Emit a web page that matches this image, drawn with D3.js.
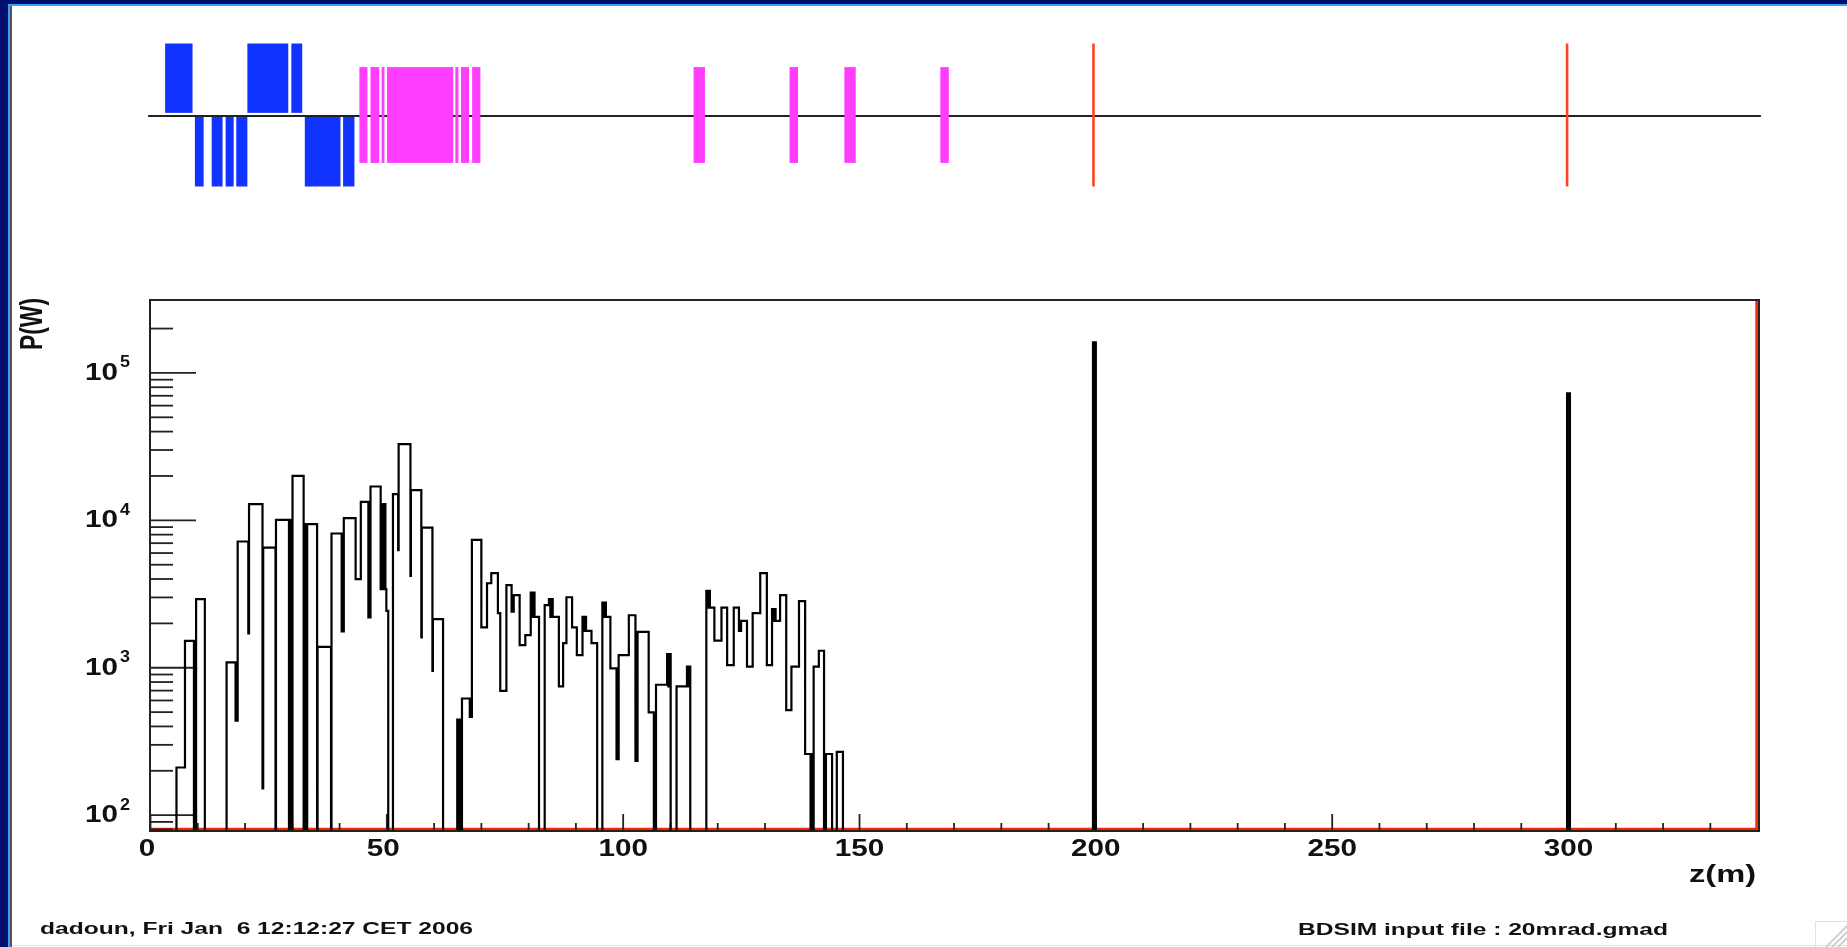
<!DOCTYPE html>
<html>
<head>
<meta charset="utf-8">
<script src="https://cdn.jsdelivr.net/npm/d3@7"></script>
<style>
html,body{margin:0;padding:0;background:#fff;overflow:hidden}
svg{display:block}
text{font-family:"Liberation Sans",Arial,sans-serif;font-weight:bold;fill:#111}
</style>
</head>
<body>
<svg id="c" width="1847" height="947"></svg>
<script>
// Histogram: left edge of every step along z (m), and the power (W) of that step. 1 = empty, clamped to the axis floor.
const binStart = [0,5.6,7.4,9.3,9.75,11.6,16.2,18.1,18.55,20.8,20.95,23.8,23.95,26.55,26.65,29.4,29.75,29.8,30.15,32.5,32.85,32.9,33.25,35.35,35.45,38.3,38.4,40.55,41.0,43.5,44.6,46.2,46.65,48.8,49.05,49.3,49.55,49.8,50.0,50.4,51.4,52.5,52.6,55.1,55.2,57.4,57.5,59.75,59.85,62,65.0,65.35,65.65,65.95,66.0,67.65,68.1,70.1,71.3,72.2,73.6,74.1,75.4,76.5,76.95,78.2,79.4,80.55,80.85,81.1,81.35,82.3,83.5,84.4,84.7,84.95,85.2,86.5,87.4,88.1,89.3,90.3,91.5,91.75,92.0,92.25,93.4,94.6,95.7,95.95,96.2,96.45,97.4,98.7,99.15,101.3,102.7,103.15,105.5,106.6,107.05,109.4,109.65,109.9,110.15,111.4,113.6,113.85,114.1,114.3,117.7,117.95,118.2,118.45,119.4,120.9,122.1,123.5,124.6,125.05,126.3,127.5,129.1,130.5,131.6,131.85,132.1,132.35,133.3,134.6,135.7,137.3,138.6,139.75,140.05,140.1,140.4,141.5,142.6,143.0,144.3,145.3,146.6,199.5,199.75,199.85,200.1,299.8,300.05,300.15,300.4,340];
const binPower = [1,209,1510,1,2900,1,1078,434,7130,1698,12770,151,6490,1,10000,1,10000,1,19860,1,9340,1,9340,1,1377,1,8080,1750,10260,3965,13240,2178,16830,3390,12770,3390,12770,3390,2416,1,14930,6223,32600,4170,15900,1592,8870,946,2120,1,441,1,441,1,614,461,7310,1862,3715,4345,2328,692,3606,2388,3083,1413,1652,3214,2198,3214,2198,1,2636,2897,2198,2897,2198,741,1459,2985,1862,1208,2198,1766,2198,1766,1459,1,2748,2198,2748,2198,982,238,1208,2254,232,1737,494,1,761,1227,742,1227,1,742,1011,742,1011,1,3295,2541,3295,2541,1514,2541,1033,2541,1766,2065,1011,2328,4345,1033,2477,2065,2477,2065,3083,512,1011,2807,258,1,258,1,1011,1294,1,258,1,267,1,160000,1,160000,1,72000,1,72000,1,1];

// Second (red) histogram: sits on the floor, then rises at the very end of the range
const redZ = [0,339.9,339.9];
const redPower = [80,80,310000];

// Beamline schematic: element extents along z (m)
const dipoleUp = [[3.2,9.0],[20.6,29.25],[29.9,32.2]];
const dipoleDown = [[9.5,11.35],[13.05,15.35],[16.0,17.7],[18.25,20.6],[32.75,40.3],[40.85,43.25]];
const quads = [[44.3,46.0],[46.65,48.5],[49.0,49.6],[50.15,64.15],[64.6,65.25],[65.8,67.5],[68.15,69.9],[115.0,117.4],[135.3,137.1],[146.9,149.3],[167.2,169.0]];
const markers = [199.6,299.8];

const xMajor = [0,50,100,150,200,250,300];
const xMinor = [10,20,30,40,60,70,80,90,110,120,130,140,160,170,180,190,210,220,230,240,260,270,280,290,310,320,330];
const yMajor = [100,1000,10000,100000];
const yExponent = [2,3,4,5];
const yMinor = [80,90,200,300,400,500,600,700,800,900,2000,3000,4000,5000,6000,7000,8000,9000,20000,30000,40000,50000,60000,70000,80000,90000,200000];
const xTitle = "z(m)", yTitle = "P(W)";
const footLeft = "dadoun, Fri Jan  6 12:12:27 CET 2006";
const footRight = "BDSIM input file : 20mrad.gmad";

const L=150,R=1759,T=300,B=831;
const svg = d3.select("#c");

// slide frame
const frame = svg.append("g");
frame.append("rect").attr("x",0).attr("y",0).attr("width",1847).attr("height",4).attr("fill","#000e70");
frame.append("rect").attr("x",0).attr("y",0).attr("width",8).attr("height",947).attr("fill","#000e70");
frame.append("rect").attr("x",8).attr("y",4).attr("width",1839).attr("height",2).attr("fill","#3fa0f0");
frame.append("rect").attr("x",8).attr("y",4).attr("width",2).attr("height",943).attr("fill","#3fa0f0");
frame.append("rect").attr("x",10).attr("y",6).attr("width",2).attr("height",941).attr("fill","#555");
frame.append("rect").attr("x",12).attr("y",945).attr("width",1835).attr("height",1).attr("fill","#e4e4e4");
// window grip
const grip = frame.append("g").attr("fill","none");
grip.append("path").attr("d","M1815.5 947V921.5H1847").attr("stroke","#e2e2e2").attr("stroke-width",1);
grip.selectAll("path.g").data([0,6,12]).join("path").attr("class","g")
  .attr("d",d=>`M${1826+d} 947L1847 ${926+d}`).attr("stroke","#d0d0d0").attr("stroke-width",2);

const chart = svg.append("g").style("filter","blur(0.6px)");

const x = d3.scaleLinear().domain([0,340.4]).range([L,R]);
const y = d3.scaleLog().domain([77.5,310000]).range([B,T]).clamp(true);
const s = d3.scaleLinear().domain([-1,1]).range([186.5,43.5]);

// beamline
const beam = chart.append("g");
const bar = (g,data,lo,hi,col)=>g.selectAll(null).data(data).join("rect")
  .attr("x",d=>x(d[0])).attr("width",d=>x(d[1])-x(d[0]))
  .attr("y",s(hi)).attr("height",s(lo)-s(hi)).attr("fill",col);
bar(beam,dipoleUp,0.03,1,"#1133ff");
bar(beam,dipoleDown,-1,-0.01,"#1133ff");
beam.append("line").attr("x1",x(-0.4)).attr("x2",x(340.8)).attr("y1",s(-0.014)).attr("y2",s(-0.014)).attr("stroke","#222").attr("stroke-width",1.8);
bar(beam,quads,-0.67,0.67,"#ff3dff");
beam.selectAll(null).data(markers).join("line")
  .attr("x1",d=>x(d)).attr("x2",d=>x(d)).attr("y1",s(1)).attr("y2",s(-1))
  .attr("stroke","#ff4422").attr("stroke-width",2.6);

// red series
const redLine = d3.line().x(d=>x(d[0])).y(d=>y(d[1]));
chart.append("path").datum(redZ.map((z,i)=>[z,redPower[i]])).attr("d",redLine)
  .attr("fill","none").attr("stroke","#ff2200").attr("stroke-width",2.6);

// axes
const tickStyle = g=>{g.select(".domain").remove();g.selectAll("line").attr("stroke","#222").attr("stroke-width",1.8);};
chart.append("g").attr("transform",`translate(0,${B})`)
  .call(d3.axisBottom(x).tickValues(xMinor).tickSize(-8).tickFormat(""))
  .call(tickStyle);
const xAx = chart.append("g").attr("transform",`translate(0,${B})`)
  .call(d3.axisBottom(x).tickValues(xMajor).tickSize(-17).tickFormat(d3.format("d")))
  .call(tickStyle);
xAx.attr("font-family",null).attr("font-size",null);
xAx.selectAll("text").attr("font-size",23).attr("fill","#111").attr("y",25).attr("dy",0)
  .attr("lengthAdjust","spacingAndGlyphs").attr("textLength",d=>String(d).length*16.5)
  .attr("dx",d=>d<100?-3.5:0);

chart.append("g").attr("transform",`translate(${L},0)`)
  .call(d3.axisRight(y).tickValues(yMinor).tickSize(23).tickFormat(""))
  .call(tickStyle);
chart.append("g").attr("transform",`translate(${L},0)`)
  .call(d3.axisRight(y).tickValues(yMajor).tickSize(46).tickFormat(""))
  .call(tickStyle);
const yLab = chart.append("g");
yLab.selectAll(null).data(yMajor).join("text")
  .attr("x",85).attr("y",d=>y(d)+7.5).attr("font-size",23)
  .attr("lengthAdjust","spacingAndGlyphs").attr("textLength",33).text("10");
yLab.selectAll(null).data(yExponent).join("text")
  .attr("x",120).attr("y",(d,i)=>y(yMajor[i])-5).attr("font-size",16)
  .attr("lengthAdjust","spacingAndGlyphs").attr("textLength",10).text(d=>d);

// histogram
const hist = d3.line().curve(d3.curveStepAfter).x(d=>x(d[0])).y(d=>y(d[1]));
chart.append("path").datum(binStart.map((z,i)=>[z,binPower[i]])).attr("d",hist)
  .attr("fill","none").attr("stroke","#000").attr("stroke-width",2.2);

// plot frame
chart.append("rect").attr("x",L).attr("y",T).attr("width",R-L).attr("height",B-T)
  .attr("fill","none").attr("stroke","#222").attr("stroke-width",2);

// titles
chart.append("text").attr("transform","translate(42,350) rotate(-90)").attr("font-size",31)
  .attr("lengthAdjust","spacingAndGlyphs").attr("textLength",52).text(yTitle);
chart.append("text").attr("x",1689).attr("y",882).attr("font-size",24)
  .attr("lengthAdjust","spacingAndGlyphs").attr("textLength",67).text(xTitle);
chart.append("text").attr("x",40).attr("y",934).attr("font-size",16).attr("xml:space","preserve").style("white-space","pre")
  .attr("lengthAdjust","spacingAndGlyphs").attr("textLength",433).text(footLeft);
chart.append("text").attr("x",1298).attr("y",935).attr("font-size",16)
  .attr("lengthAdjust","spacingAndGlyphs").attr("textLength",370).text(footRight);
</script>
</body>
</html>
